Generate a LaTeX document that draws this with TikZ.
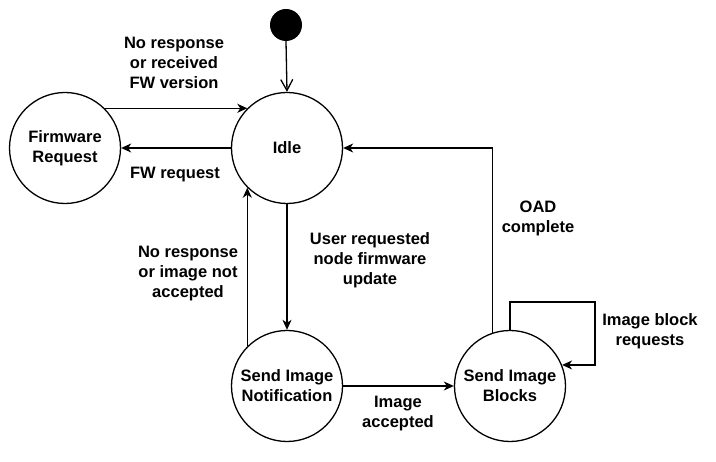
\documentclass[tikz,border=0pt]{standalone}
\usepackage{fontspec}
\setmainfont{Liberation Sans}
\usetikzlibrary{arrows.meta, calc}

\begin{document}
\begin{tikzpicture}[x=1pt, y=-1pt]
    \tikzstyle{state} = [draw, circle, line width=1.3pt, minimum size=111pt, inner sep=0pt, align=center, font=\bfseries\fontsize{16.5}{20}\selectfont];
    \tikzstyle{start} = [circle, fill=black, minimum size=32pt, inner sep=0pt];
    \tikzstyle{lbl} = [align=center, font=\bfseries\fontsize{16.5}{20}\selectfont];
    \tikzstyle{trans} = [line width=1.3pt, -{Stealth[length=10pt, width=9pt, inset=3pt]}];

    \useasboundingbox (0, 0) rectangle (716, 462);

    \node[start] at (286, 25) (init) {};
    \node[state] at (65, 148) (fwreq) {Firmware\\Request};
    \node[state] at (287, 148) (idle) {Idle};
    \node[state] at (287, 386) (sendnotif) {Send Image\\Notification};
    \node[state] at (510, 386) (sendblocks) {Send Image\\Blocks};

    \coordinate (loopcorner) at (595, 302);

    \draw[line width=1.3pt, -{Straight Barb[length=11pt, width=12pt]}] (init.south) -- (idle.north);
    \draw[trans] (fwreq.45) -- (idle.135);
    \draw[trans] (idle.west) -- (fwreq.east);
    \draw[trans] (idle.south) -- (sendnotif.north);
    \draw[trans] (sendnotif.135) -- (idle.225);
    \draw[trans] (sendnotif.east) -- (sendblocks.west);
    \draw[trans] (sendblocks.108) |- (idle.east);
    \draw[trans] (sendblocks.north) |- (loopcorner) |- (sendblocks.22);

    % transition labels
    \node[lbl] at (174, 63) (lblfwver) {No response\\or received\\FW version};
    \node[lbl] at (175, 175) (lblfwreq) {FW request};
    \node[lbl] at (370, 260) (lbluser) {User requested\\node firmware\\update};
    \node[lbl] at (188, 274) (lblnoresp) {No response\\or image not\\accepted};
    \node[lbl] at (398, 414) (lblaccept) {Image\\accepted};
    \node[lbl] at (538, 218) (lbload) {OAD\\complete};
    \node[lbl] at (650, 331) (lblblock) {Image block\\requests};
\end{tikzpicture}
\end{document}
